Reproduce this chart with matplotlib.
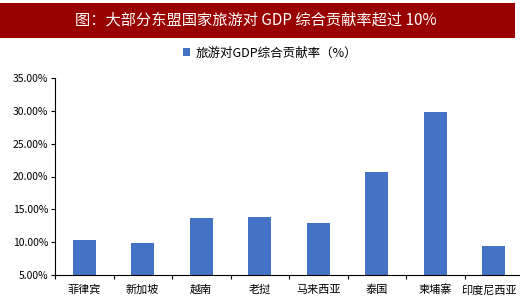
import matplotlib.pyplot as plt
import matplotlib.transforms as mtransforms
from matplotlib.patches import Rectangle
from matplotlib.ticker import FuncFormatter

plt.rcParams['font.family'] = ['Noto Sans CJK SC', 'DejaVu Sans']

# dane: udział turystyki w PKB (%)
kraje = ['菲律宾', '新加坡', '越南', '老挝', '马来西亚', '泰国', '柬埔寨', '印度尼西亚']
udzial = [10.4, 9.9, 13.7, 13.8, 12.9, 20.7, 29.8, 9.4]

fig = plt.figure(figsize=(5.2, 3.0), dpi=100)
fig.patch.set_facecolor('white')

# pasek tytułu
fig.patches.append(Rectangle((0, 1 - 38 / 300), 515 / 520, 35 / 300,
                             transform=fig.transFigure, facecolor='#990000',
                             edgecolor='none', zorder=0))
fig.text(256 / 520, 1 - 20.5 / 300, '图：大部分东盟国家旅游对 GDP 综合贡献率超过 10%',
         color='white', fontsize=11, ha='center', va='center')

ax = fig.add_axes([55 / 520, 25 / 300, 8 * 58.5 / 520, 197 / 300])
x = range(len(kraje))
ax.bar(x, udzial, width=0.4, bottom=0, color='#4472C4', label='旅游对GDP综合贡献率（%）')

ax.set_ylim(5, 35)
ax.set_xlim(-0.5, len(kraje) - 0.5)
ax.set_yticks([5, 10, 15, 20, 25, 30, 35])
ax.yaxis.set_major_formatter(FuncFormatter(lambda v, p: f'{v:.2f}%'))
ax.tick_params(axis='y', labelsize=7.5, length=3, direction='out', pad=2)

# podziałki między kategoriami, etykiety na środku
ax.set_xticks([i - 0.5 for i in range(len(kraje) + 1)])
ax.set_xticklabels([])
ax.set_xticks(list(x), minor=True)
ax.set_xticklabels(kraje, minor=True)
ax.tick_params(axis='x', which='major', length=3, direction='out')
ax.tick_params(axis='x', which='minor', length=0, labelsize=8, pad=7)

# ostatnia etykieta lekko w lewo, żeby nie wychodziła poza obraz
ostatnia = ax.get_xticklabels(minor=True)[-1]
ostatnia.set_transform(ostatnia.get_transform() +
                       mtransforms.ScaledTranslation(-5 / 100, 0, fig.dpi_scale_trans))

ax.spines['top'].set_visible(False)
ax.spines['right'].set_visible(False)

fig.legend(loc='center', bbox_to_anchor=(270 / 520, 1 - 53 / 300), frameon=False,
           fontsize=9, handlelength=0.6, handleheight=0.6, handletextpad=0.4)

plt.savefig('out.png', dpi=100)
